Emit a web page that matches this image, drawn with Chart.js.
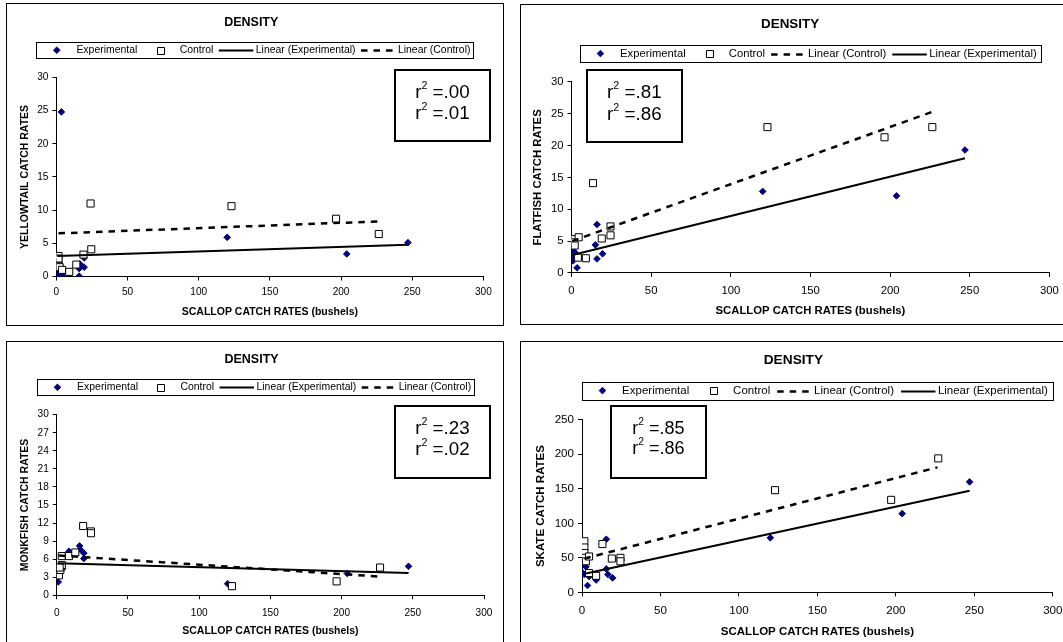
<!DOCTYPE html>
<html><head><meta charset="utf-8">
<script src="https://cdn.jsdelivr.net/npm/chart.js@4.4.1/dist/chart.umd.min.js"></script>
<style>
html,body{margin:0;padding:0;background:#fff;width:1063px;height:642px;overflow:hidden;position:relative}
canvas{position:absolute}
.frame{position:absolute;border:1px solid #000;box-sizing:border-box;pointer-events:none}
</style></head><body>
<canvas id="cTL"></canvas><canvas id="cTR"></canvas><canvas id="cBL"></canvas><canvas id="cBR"></canvas>
<script>
// ---------------- DATA ----------------
const chartTitle = 'DENSITY';
const xAxisTitle = 'SCALLOP CATCH RATES (bushels)';
const xMin = 0, xMax = 300, xStep = 50;

// Yellowtail  [scallop bushels, catch rate]
const yellowtailExp = [[0.7,0.5],[2,1.8],[2.5,1.2],[2.5,0.3],[3.5,24.8],[4,0.2],[8.5,0.6],[16,0.05],[16,1.2],[16.5,1.9],[19.5,2.8],[19.5,1.4],[120,5.9],[204,3.4],[247,5.1]];
const yellowtailCtl = [[1.5,3.1],[1.5,2.7],[1.8,1.6],[2.3,1.4],[4,1.0],[9,0.7],[14,1.8],[19,3.3],[24.5,4.1],[24,11.0],[123,10.6],[196.5,8.7],[226.5,6.4]];
const yellowtailFitExp = [[0.7,3.1],[247,4.8]];
const yellowtailFitCtl = [[1.5,6.5],[226.5,8.3]];
const yellowtailR2 = ['.00', '.01'];

// Flatfish
const flatfishExp = [[1,1.9],[1.5,3.3],[2.5,3.1],[2,2.6],[3.5,0.8],[8.5,2.3],[15,4.4],[16,7.6],[16,2.2],[19.5,3.0],[120,12.8],[204,12.1],[247,19.3]];
const flatfishCtl = [[1.5,5.3],[1.5,4.8],[2,4.3],[4.5,5.6],[4,2.4],[9,2.3],[13.5,14.1],[19,5.4],[24.5,7.3],[24.5,5.9],[123,22.9],[196.5,21.3],[226.5,22.9]];
const flatfishFitExp = [[0.6,2.8],[247,18.0]];
const flatfishFitCtl = [[0.5,5.0],[226.5,25.3]];
const flatfishR2 = ['.81', '.86'];

// Monkfish
const monkfishExp = [[1,2.2],[1.5,3.9],[2.5,4.7],[4,4.4],[3,5.0],[8.5,7.3],[16,8.2],[16.5,7.6],[19,7.0],[19,6.1],[120,1.9],[204,3.6],[247,4.8]];
const monkfishCtl = [[1.5,3.3],[2.5,4.2],[3.5,5.0],[2,4.6],[3.5,6.5],[8.5,6.5],[13,7.1],[18.5,11.5],[24,10.6],[24,10.3],[123,1.5],[196.5,2.3],[227,4.6]];
const monkfishFitExp = [[0.9,5.3],[247,3.7]];
const monkfishFitCtl = [[1.5,6.6],[226.5,3.1]];
const monkfishR2 = ['.23', '.02'];

// Skate
const skateExp = [[0.5,28],[1.5,40],[2.5,37],[1.5,26],[3.5,10],[4.5,23],[9,18],[15.5,77],[15.5,34],[16.5,26],[19.5,21],[120,79],[204,114],[247,160]];
const skateCtl = [[1.5,74],[1.5,65],[1.5,57],[1.5,50],[2.5,45],[4.5,52],[4.5,28],[9,24],[13,70],[19,49],[24.5,50],[24.5,45],[123,148],[197,134],[227,194]];
const skateFitExp = [[1,26.5],[247,147]];
const skateFitCtl = [[1.5,49],[226.5,181]];
const skateR2 = ['.85', '.86'];

// ---------------- LAYOUT / STYLE ----------------
Chart.defaults.font.family = '"Liberation Sans", Arial, sans-serif';
Chart.defaults.color = '#000';
const FONT = '"Liberation Sans", Arial, sans-serif';

const deco = {
  id: 'deco',
  afterDraw(chart, args, o) {
    const ctx = chart.ctx;
    const [ox, oy] = o.origin;
    ctx.save();
    // legend box
    const [lx0, ly0, lx1, ly1] = o.legend.box.map((v, i) => v - (i % 2 ? oy : ox));
    ctx.strokeStyle = '#000'; ctx.lineWidth = 1; ctx.setLineDash([]);
    ctx.strokeRect(Math.round(lx0) + 0.5, Math.round(ly0) + 0.5, Math.round(lx1 - lx0), Math.round(ly1 - ly0));
    const cy = (ly0 + ly1) / 2;
    ctx.font = o.legend.size + 'px ' + FONT;
    ctx.textBaseline = 'middle'; ctx.textAlign = 'left'; ctx.fillStyle = '#000';
    let x = lx0 + o.legend.pad;
    o.legend.order.forEach(di => {
      const ds = chart.data.datasets[di];
      const sx = x, ex = x + o.legend.symW, mx = (sx + ex) / 2;
      ctx.save();
      if (ds.showLine) {
        ctx.strokeStyle = ds.borderColor; ctx.lineWidth = ds.borderWidth;
        ctx.setLineDash(ds.borderDash || []);
        ctx.beginPath(); ctx.moveTo(sx, Math.round(cy) + 0.5); ctx.lineTo(ex, Math.round(cy) + 0.5); ctx.stroke();
      } else {
        ctx.fillStyle = ds.backgroundColor; ctx.strokeStyle = ds.borderColor; ctx.lineWidth = ds.borderWidth;
        ctx.beginPath();
        if (ds.pointStyle === 'rect') {
          const s = Math.SQRT1_2 * ds.pointRadius;
          ctx.rect(Math.round(mx - s) + 0.5, Math.round(cy - s) + 0.5, Math.round(2 * s), Math.round(2 * s));
        } else {
          const r = ds.pointRadius;
          ctx.moveTo(mx - r, cy); ctx.lineTo(mx, cy - r); ctx.lineTo(mx + r, cy); ctx.lineTo(mx, cy + r); ctx.closePath();
        }
        ctx.fill(); ctx.stroke();
      }
      ctx.restore();
      x = ex + o.legend.gapText;
      ctx.fillText(ds.label, x, cy);
      x += ctx.measureText(ds.label).width + o.legend.gapItem;
    });
    // r^2 box
    const [rx0, ry0, rx1, ry1] = o.r2.box.map((v, i) => v - (i % 2 ? oy : ox));
    ctx.lineWidth = 2;
    ctx.strokeRect(Math.round(rx0) + 1, Math.round(ry0) + 1, Math.round(rx1 - rx0) - 2, Math.round(ry1 - ry0) - 2);
    const big = o.r2.size + 'px ' + FONT, small = o.r2.supSize + 'px ' + FONT;
    ctx.textBaseline = 'alphabetic';
    o.r2.values.forEach((v, i) => {
      const base = ry0 + o.r2.base + i * o.r2.gap;
      ctx.font = big; const wr = ctx.measureText('r').width; const wt = ctx.measureText(' =' + v).width;
      ctx.font = small; const ws = ctx.measureText('2').width;
      let tx = (rx0 + rx1) / 2 - (wr + ws + wt) / 2;
      ctx.font = big; ctx.fillText('r', tx, base); tx += wr;
      ctx.font = small; ctx.fillText('2', tx, base - o.r2.raise); tx += ws;
      ctx.font = big; ctx.fillText(' =' + v, tx, base);
    });
    ctx.restore();
  }
};

const toXY = a => a.map(p => ({x: p[0], y: p[1]}));

function makeChart(id, P, S) {
  const [x0, y0, x1, y1] = P.panel;
  const w = x1 - x0, h = y1 - y0;
  const cv = document.getElementById(id);
  cv.width = w; cv.height = h;
  Object.assign(cv.style, {left: x0 + 'px', top: y0 + 'px', width: w + 'px', height: h + 'px'});
  const fr = document.createElement('div');
  fr.className = 'frame';
  Object.assign(fr.style, {left: x0 + 'px', top: y0 + 'px', width: (w + 1) + 'px', height: (h + 1) + 'px'});
  document.body.appendChild(fr);

  const [L, T, R, B] = P.area;
  const tLH = P.fTitle * 1.2;
  const tPadTop = (P.titleY + 1.5 - y0) - tLH / 2;
  const tPadBot = (T - y0) - tLH - tPadTop;
  const aLH = P.fAxisTitle * 1.2;
  const padLeft = (P.yTitleX - x0) - aLH / 2;
  const yW = (L - x0) - padLeft;
  const xH = (P.xTitleY + 1 - B) + aLH / 2;
  const padBottom = h - (B - y0) - xH;
  const padRight = w - (R - x0);
  const tickPad = (P.xTickY - B) - 4 - P.fTick * 0.6 + 1.3;

  const expDs = {label: 'Experimental', data: toXY(S.exp), pointStyle: 'rectRot', pointRadius: 3.3, pointHoverRadius: 3.3,
    backgroundColor: '#000080', borderColor: '#000080', borderWidth: 1, showLine: false, order: 3};
  const ctlDs = {label: 'Control', data: toXY(S.ctl), pointStyle: 'rect', pointRadius: 5, pointHoverRadius: 5,
    backgroundColor: '#ffffff', borderColor: '#000000', borderWidth: 1, showLine: false, order: 2};
  const fitExpDs = {label: 'Linear (Experimental)', data: toXY(S.fitExp), showLine: true, pointRadius: 0,
    borderColor: '#000', borderWidth: 2, borderDash: [], order: 1, fill: false};
  const fitCtlDs = {label: 'Linear (Control)', data: toXY(S.fitCtl), showLine: true, pointRadius: 0,
    borderColor: '#000', borderWidth: 2.5, borderDash: [6.5, 6], order: 0, fill: false};

  const axisTitleFont = {size: P.fAxisTitle, weight: 'bold'};
  return new Chart(cv, {
    type: 'scatter',
    data: {datasets: [expDs, ctlDs, fitExpDs, fitCtlDs]},
    options: {
      responsive: false, animation: false, devicePixelRatio: 1, events: [],
      layout: {padding: {left: padLeft, right: padRight, top: 0, bottom: padBottom}},
      plugins: {
        legend: {display: false}, tooltip: {enabled: false},
        title: {display: true, text: chartTitle, color: '#000', font: {size: P.fTitle, weight: 'bold'},
          padding: {top: tPadTop, bottom: tPadBot}},
        deco: {
          origin: [x0, y0],
          legend: {box: P.legend, size: P.fLegend, pad: P.legendPad, symW: 34.5, gapText: 2.4, gapItem: P.gapItem,
            order: S.legendOrder},
          r2: {box: P.r2, values: S.r2, size: P.r2Size, supSize: P.r2Size * 0.57, raise: 9.1, base: P.r2Base, gap: P.r2Gap}
        }
      },
      scales: {
        x: {
          type: 'linear', min: xMin, max: xMax,
          ticks: {stepSize: xStep, font: {size: P.fTick}, color: '#000', padding: tickPad, maxRotation: 0},
          grid: {display: true, drawOnChartArea: false, drawTicks: true, tickLength: 4, color: '#000'},
          border: {display: true, color: '#000', width: 1},
          title: {display: true, text: xAxisTitle, color: '#000', font: axisTitleFont, padding: {top: 0, bottom: 0}},
          afterFit: s => { s.height = xH; }
        },
        y: {
          type: 'linear', min: S.yMin, max: S.yMax,
          ticks: {stepSize: S.yStep, font: {size: P.fTick}, color: '#000', padding: 4},
          grid: {display: true, drawOnChartArea: false, drawTicks: true, tickLength: 4, color: '#000'},
          border: {display: true, color: '#000', width: 1},
          title: {display: true, text: S.yTitle, color: '#000', font: axisTitleFont, padding: {top: 0, bottom: 0}},
          afterFit: s => { s.width = yW; }
        }
      }
    },
    plugins: [deco]
  });
}

const layoutTL = {panel: [6, 3, 503, 325], area: [56.4, 77.4, 483.4, 276.5], titleY: 21, yTitleX: 25.4, xTitleY: 311.4, xTickY: 291.4,
  fTitle: 12.5, fAxisTitle: 10.5, fTick: 10.1, fLegend: 10.45, legendPad: 3.7, gapItem: 5.5,
  legend: [35.8, 42.3, 473.2, 58.1], r2: [394.1, 68.6, 490.8, 142], r2Size: 18.8, r2Base: 29.4, r2Gap: 21.3};
const layoutTR = {panel: [520, 4, 1069, 324], area: [571.5, 81.9, 1049.4, 272.9], titleY: 22.8, yTitleX: 537.5, xTitleY: 310, xTickY: 289.6,
  fTitle: 13.4, fAxisTitle: 11.3, fTick: 11.3, fLegend: 11.25, legendPad: 3.2, gapItem: 6.1,
  legend: [580, 44.9, 1040.9, 62.2], r2: [586.1, 69, 682.6, 142.8], r2Size: 18.8, r2Base: 29.4, r2Gap: 21.3};
const layoutBL = {panel: [6, 341, 503, 660], area: [56.8, 414.7, 484, 595.2], titleY: 358.3, yTitleX: 25.4, xTitleY: 630, xTickY: 611.8,
  fTitle: 12.5, fAxisTitle: 10.5, fTick: 10.1, fLegend: 10.45, legendPad: 3.7, gapItem: 5.5,
  legend: [36.5, 379.2, 473.2, 395.4], r2: [394.1, 404.6, 490.8, 478.6], r2Size: 18.8, r2Base: 29.4, r2Gap: 21.3};
const layoutBR = {panel: [520, 341, 1075, 660], area: [582, 419.7, 1052.8, 592.4], titleY: 359.2, yTitleX: 540.9, xTitleY: 630.4, xTickY: 609.4,
  fTitle: 13.7, fAxisTitle: 11.5, fTick: 11.6, fLegend: 11.5, legendPad: 3.2, gapItem: 7,
  legend: [582, 381.6, 1052.8, 399.6], r2: [609.9, 405.4, 706.7, 479.5], r2Size: 18, r2Base: 28.5, r2Gap: 20.1};

makeChart('cTL', layoutTL, {exp: yellowtailExp, ctl: yellowtailCtl, fitExp: yellowtailFitExp, fitCtl: yellowtailFitCtl,
  r2: yellowtailR2, yMin: 0, yMax: 30, yStep: 5, yTitle: 'YELLOWTAIL CATCH RATES', legendOrder: [0, 1, 2, 3]});
makeChart('cTR', layoutTR, {exp: flatfishExp, ctl: flatfishCtl, fitExp: flatfishFitExp, fitCtl: flatfishFitCtl,
  r2: flatfishR2, yMin: 0, yMax: 30, yStep: 5, yTitle: 'FLATFISH CATCH RATES', legendOrder: [0, 1, 3, 2]});
makeChart('cBL', layoutBL, {exp: monkfishExp, ctl: monkfishCtl, fitExp: monkfishFitExp, fitCtl: monkfishFitCtl,
  r2: monkfishR2, yMin: 0, yMax: 30, yStep: 3, yTitle: 'MONKFISH CATCH RATES', legendOrder: [0, 1, 2, 3]});
makeChart('cBR', layoutBR, {exp: skateExp, ctl: skateCtl, fitExp: skateFitExp, fitCtl: skateFitCtl,
  r2: skateR2, yMin: 0, yMax: 250, yStep: 50, yTitle: 'SKATE CATCH RATES', legendOrder: [0, 1, 3, 2]});
</script>
</body></html>
